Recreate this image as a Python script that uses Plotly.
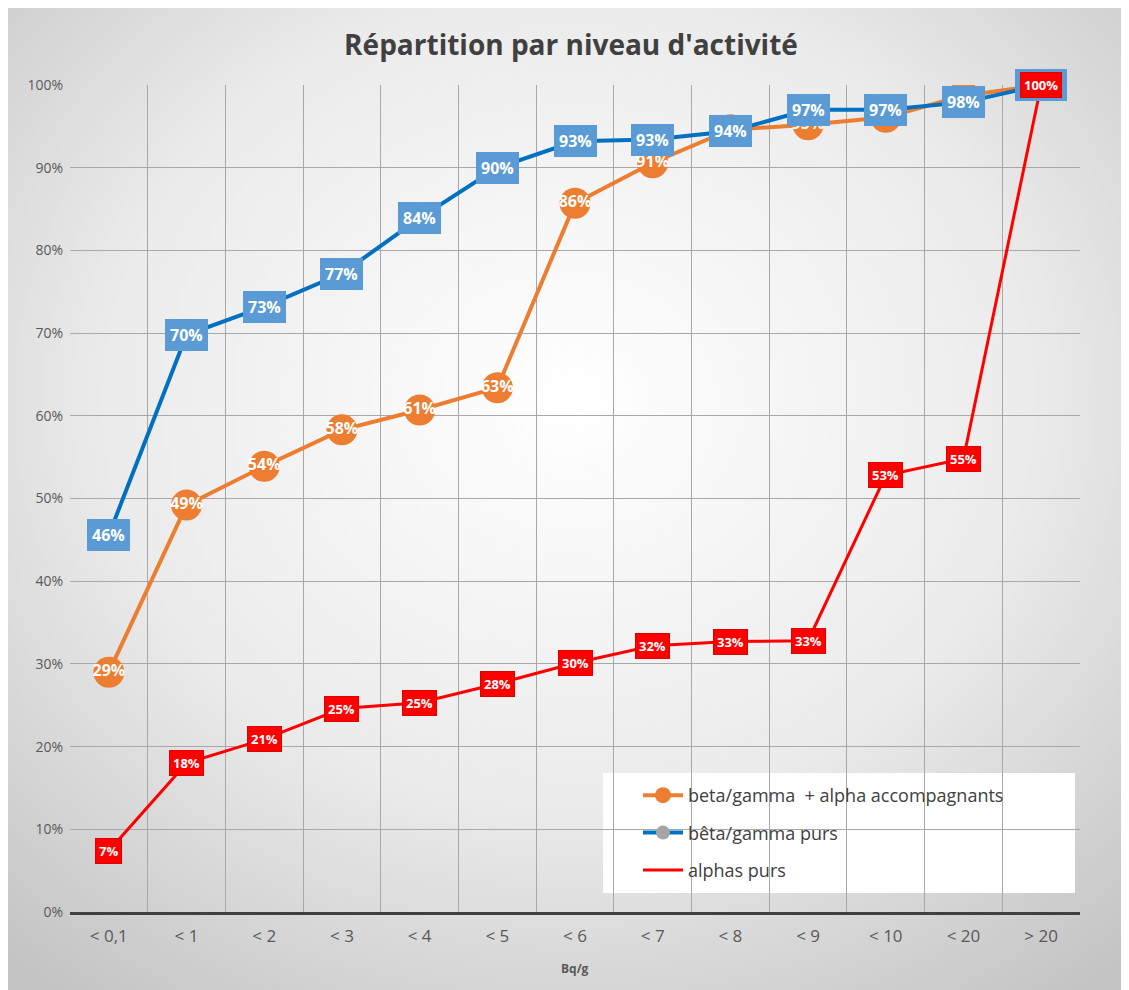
import base64
import plotly.graph_objects as go

categories = ["< 0,1", "< 1", "< 2", "< 3", "< 4", "< 5", "< 6", "< 7", "< 8", "< 9", "< 10", "< 20", "> 20"]
beta_gamma_alpha = [0.29, 0.492, 0.539, 0.583, 0.607, 0.634, 0.857, 0.906, 0.946, 0.952, 0.961, 0.987, 1.0]
beta_gamma_purs = [0.456, 0.698, 0.732, 0.772, 0.839, 0.900, 0.932, 0.934, 0.944, 0.970, 0.970, 0.979, 1.0]
alphas_purs = [0.074, 0.180, 0.209, 0.246, 0.253, 0.276, 0.301, 0.322, 0.327, 0.328, 0.528, 0.548, 1.0]
y_ticks = [0, 0.1, 0.2, 0.3, 0.4, 0.5, 0.6, 0.7, 0.8, 0.9, 1.0]

FONT = "Open Sans"
OFF = 8  # page body margin
W, H = 1129 - OFF, 990 - OFF
ML, MR, MT, MB = 70 - OFF, 49, 85 - OFF, 78
PW, PH = W - ML - MR, H - MT - MB

fig = go.Figure()

fig.add_trace(go.Scatter(
    x=categories, y=beta_gamma_alpha, name="beta/gamma  + alpha accompagnants",
    mode="lines+markers+text", legendgroup="a",
    line=dict(color="#ED7D31", width=4),
    marker=dict(color="#ED7D31", size=31),
    text=[f"{round(v*100)}%" for v in beta_gamma_alpha],
    textposition="middle center",
    textfont=dict(family=FONT, size=16, color="white", weight="bold"),
))
fig.add_trace(go.Scatter(
    x=categories, y=beta_gamma_purs, name="bêta/gamma purs",
    mode="lines+markers", legendgroup="b",
    line=dict(color="#0070C0", width=4),
    marker=dict(color="#A5A5A5", size=14),
))
fig.add_trace(go.Scatter(
    x=categories, y=alphas_purs, name="alphas purs",
    mode="lines", legendgroup="c",
    line=dict(color="#FF0000", width=3),
))

annotations = []
for c, v in zip(categories, beta_gamma_purs):
    annotations.append(dict(
        x=c, y=v, xref="x", yref="y", text=f"{round(v*100)}%", showarrow=False,
        bgcolor="#5B9BD5", borderpad=4, bordercolor="#5B9BD5",
        font=dict(family=FONT, size=16, color="white", weight="bold"),
    ))
for c, v in zip(categories, alphas_purs):
    annotations.append(dict(
        x=c, y=v, xref="x", yref="y", text=f"{round(v*100)}%", showarrow=False,
        bgcolor="#FF0000", borderpad=3, bordercolor="#E00000",
        font=dict(family=FONT, size=13, color="white", weight="bold"),
    ))
annotations.append(dict(
    x=0.5, y=-(968 - 912) / PH, xref="paper", yref="paper", text="Bq/g", showarrow=False,
    yanchor="middle", font=dict(family=FONT, size=12, color="#595959", weight="bold"),
))

svg = (
    f'<svg xmlns="http://www.w3.org/2000/svg" width="{W}" height="{H}" viewBox="0 0 {W} {H}" preserveAspectRatio="none">'
    '<defs><radialGradient id="g" cx="50%" cy="40%" r="75%">'
    '<stop offset="0%" stop-color="#ffffff"/><stop offset="55%" stop-color="#ebebeb"/>'
    '<stop offset="100%" stop-color="#c4c4c4"/></radialGradient></defs>'
    f'<rect x="0" y="0" width="{W}" height="{H}" fill="url(#g)"/>'
    '</svg>'
)
src = "data:image/svg+xml;base64," + base64.b64encode(svg.encode()).decode()

fig.update_layout(
    width=W, height=H,
    margin=dict(l=ML, r=MR, t=MT, b=MB),
    paper_bgcolor="#e0e0e0", plot_bgcolor="rgba(0,0,0,0)",
    title=dict(text="Répartition par niveau d'activité", x=(571 - OFF) / W, xref="container",
               xanchor="center", y=1 - (45 - OFF) / H, yanchor="middle",
               font=dict(family=FONT, size=28, color="#404040", weight="bold")),
    images=[dict(source=src, xref="paper", yref="paper",
                 x=-ML / PW, y=1 + MT / PH, sizex=W / PW, sizey=H / PH,
                 xanchor="left", yanchor="top", sizing="stretch", layer="below")],
    shapes=[dict(type="rect", xref="paper", yref="paper",
                 x0=(603 - 70) / PW, x1=(1075 - 70) / PW,
                 y0=(912 - 893) / PH, y1=(912 - 773) / PH,
                 fillcolor="white", line=dict(width=0), layer="below")],
    legend=dict(x=(638 - 70) / PW, y=(912 - 777) / PH, xanchor="left", yanchor="top",
                bgcolor="rgba(0,0,0,0)", font=dict(family=FONT, size=18, color="#404040"),
                tracegroupgap=11, itemwidth=40),
    annotations=annotations,
    xaxis=dict(type="category", range=[-0.5, len(categories) - 0.5], tickson="boundaries",
               showgrid=True, gridcolor="#a8a8a8", gridwidth=1,
               showline=True, linecolor="#404040", linewidth=3,
               ticks="", tickfont=dict(family=FONT, size=17, color="#595959"),
               ticklabelstandoff=7, zeroline=False, fixedrange=True),
    yaxis=dict(range=[0, 1.0], tickvals=y_ticks, tickformat=".0%",
               showgrid=True, gridcolor="#a8a8a8", gridwidth=1,
               ticks="", tickfont=dict(family=FONT, size=14, color="#595959"),
               zeroline=False, showline=False, ticklabelstandoff=6),
)

fig.write_html("out.html")
